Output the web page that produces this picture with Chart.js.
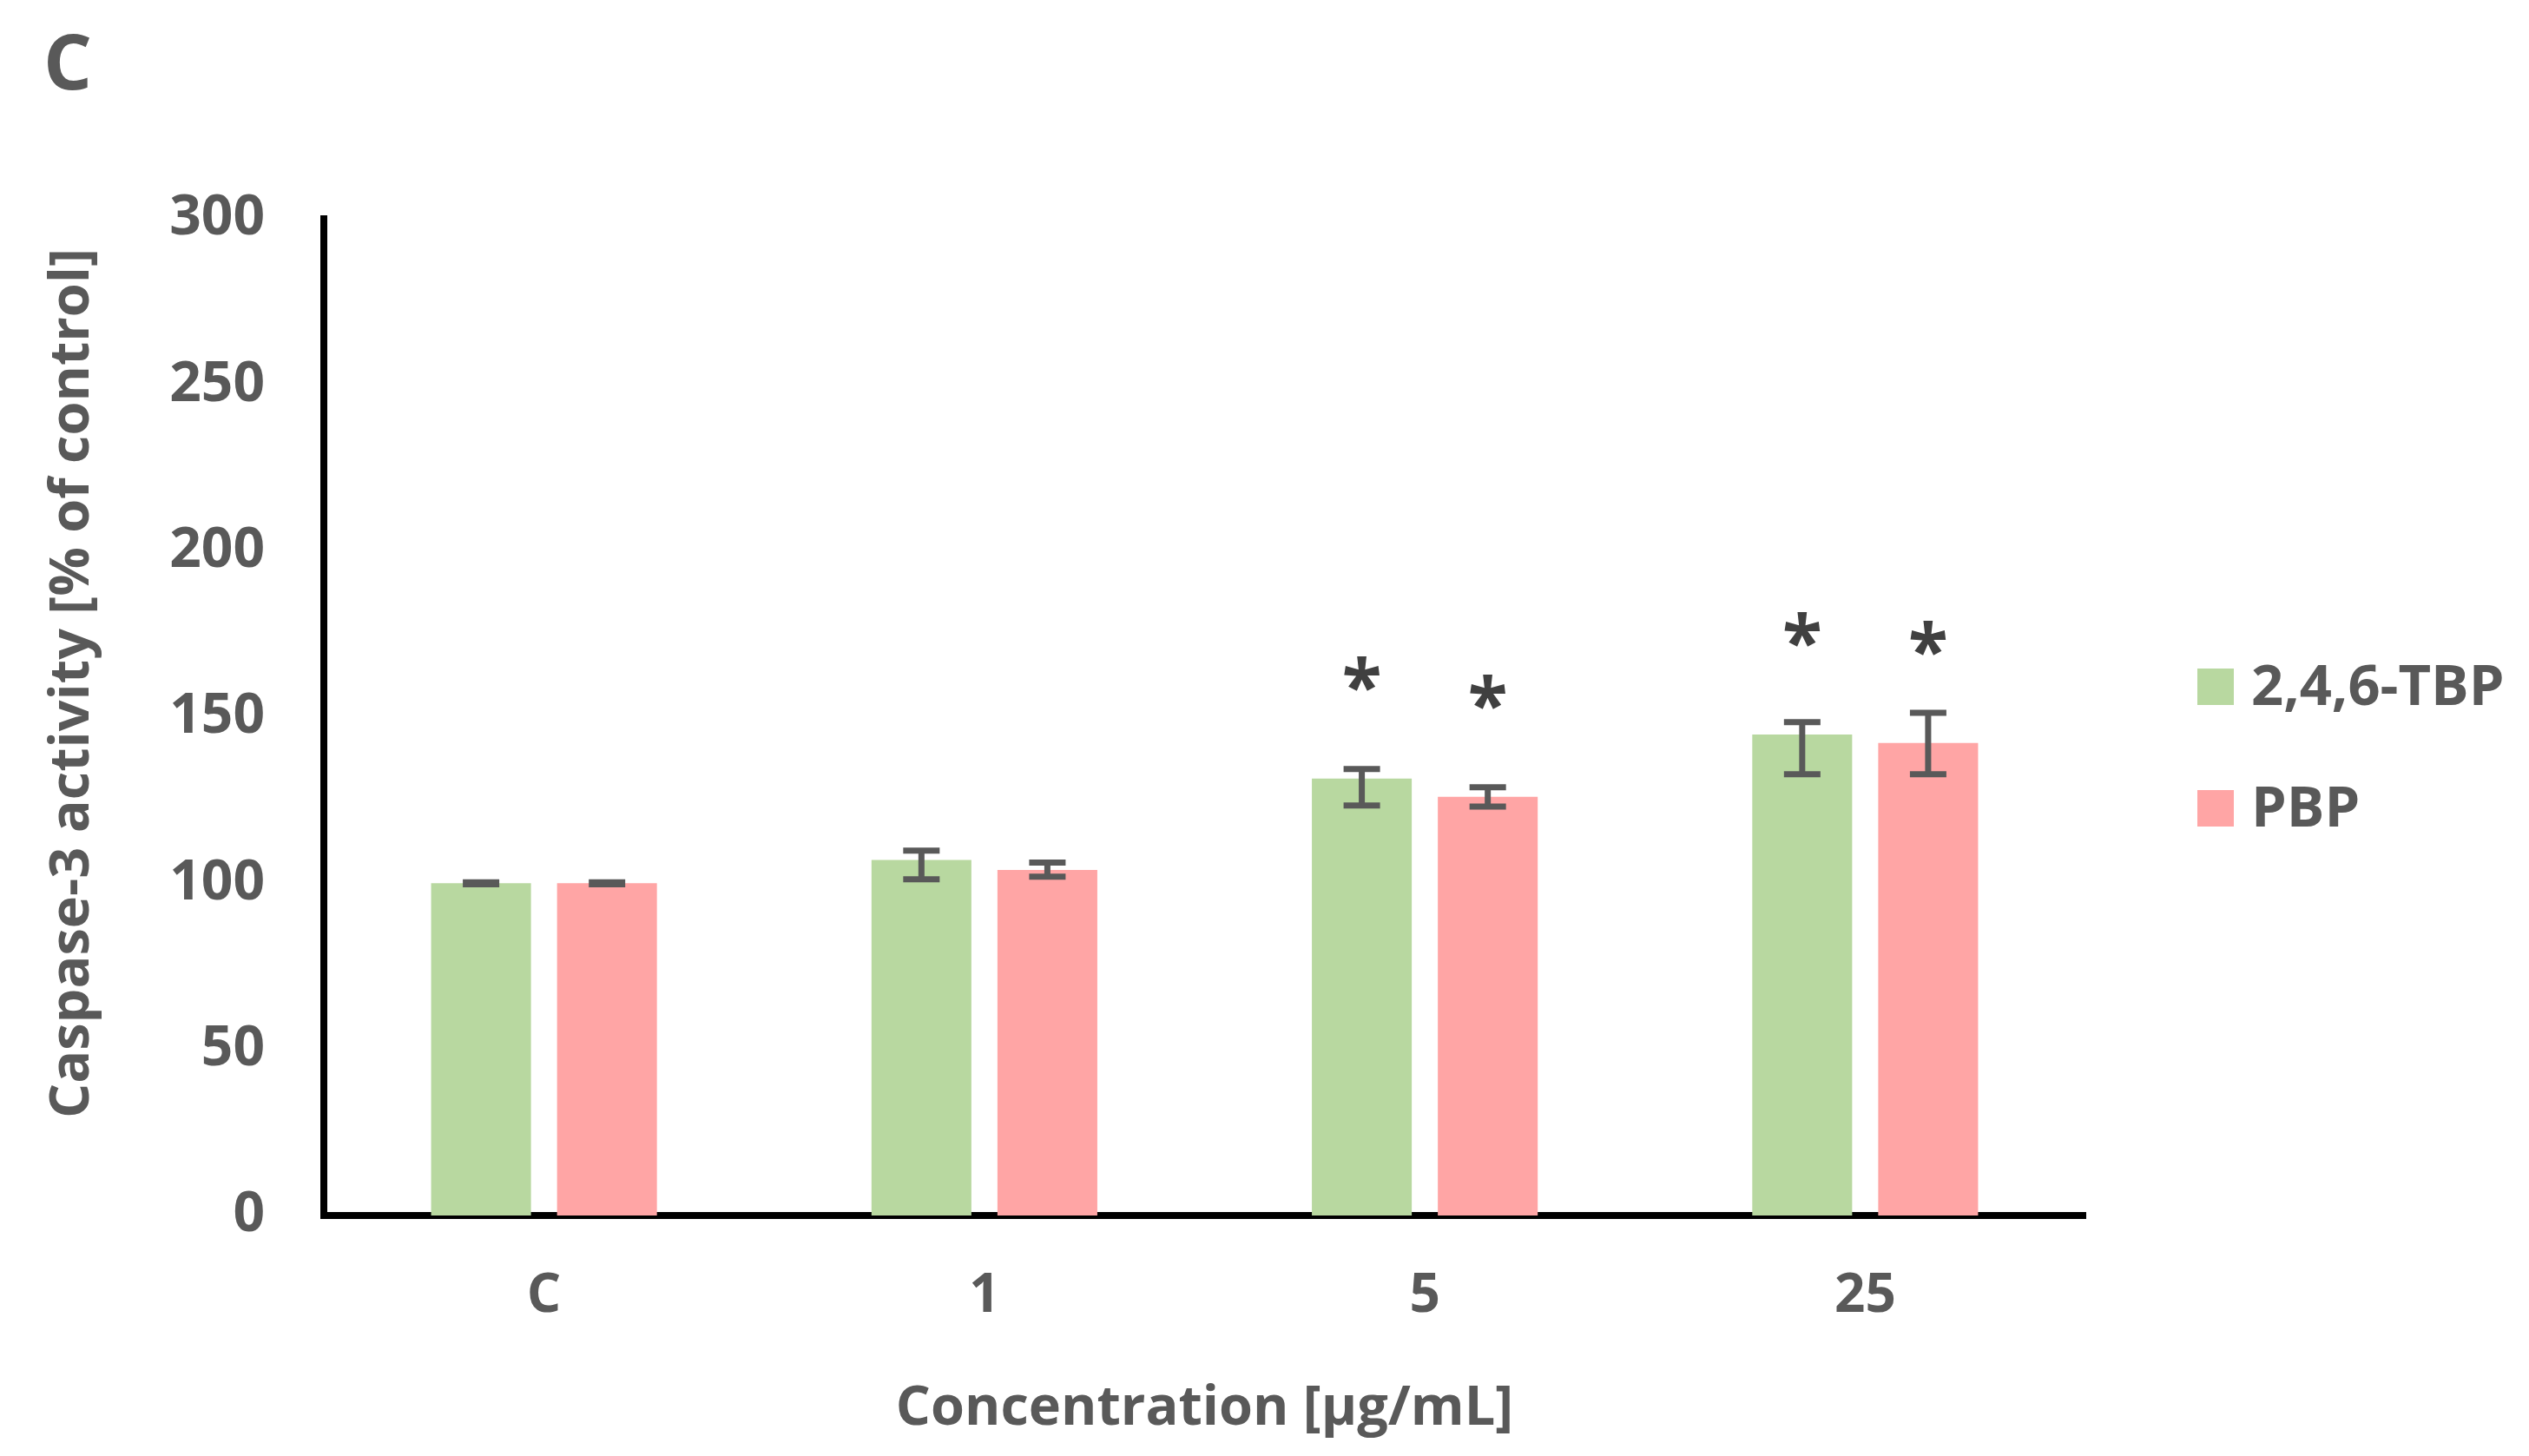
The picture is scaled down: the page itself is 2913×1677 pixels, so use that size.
<!DOCTYPE html>
<html>
<head>
<meta charset="utf-8">
<script src="https://cdn.jsdelivr.net/npm/chart.js@4.4.1/dist/chart.umd.min.js"></script>
<style>
  html, body { margin: 0; padding: 0; background: #ffffff; }
  canvas { display: block; }
</style>
</head>
<body>
<canvas id="c" width="2913" height="1677"></canvas>
<script>
// ---- data ----
const categories = ['C', '1', '5', '25'];
const seriesNames = ['2,4,6-TBP', 'PBP'];
const tbpMeans = [100, 107, 131.5, 144.8];
const tbpErrLow = [99.7, 101.2, 123.4, 132.8];
const tbpErrHigh = [100.3, 109.8, 134.4, 148.5];
const pbpMeans = [100, 104, 126, 142.2];
const pbpErrLow = [99.7, 102.0, 123.1, 132.8];
const pbpErrHigh = [100.3, 106.2, 128.9, 151.3];
const tbpSignif = [false, false, true, true];
const pbpSignif = [false, false, true, true];
const yTicks = [0, 50, 100, 150, 200, 250, 300];
const panelLabel = 'C';
const xTitle = 'Concentration [µg/mL]';
const yTitle = 'Caspase-3 activity [% of control]';

// ---- styles ----
const TEXT = '#595959';
const GREEN = '#B8D8A0';
const PINK = '#FFA5A5';
const FONT = '"Open Sans", "Noto Sans", sans-serif';

const errLow = [tbpErrLow, pbpErrLow];
const errHigh = [tbpErrHigh, pbpErrHigh];
const signif = [tbpSignif, pbpSignif];

const extras = {
  id: 'extras',
  afterDatasetsDraw(chart) {
    const ctx = chart.ctx;
    const y = chart.scales.y;
    ctx.save();
    chart.data.datasets.forEach((ds, di) => {
      const meta = chart.getDatasetMeta(di);
      meta.data.forEach((bar, i) => {
        const yt = y.getPixelForValue(errHigh[di][i]);
        const yb = y.getPixelForValue(errLow[di][i]);
        const x = bar.x;
        ctx.strokeStyle = TEXT;
        ctx.lineWidth = 7;
        ctx.lineCap = 'butt';
        ctx.beginPath();
        ctx.moveTo(x, yt); ctx.lineTo(x, yb);
        ctx.moveTo(x - 21, yt); ctx.lineTo(x + 21, yt);
        ctx.moveTo(x - 21, yb); ctx.lineTo(x + 21, yb);
        ctx.stroke();
        if (signif[di][i]) {
          ctx.fillStyle = '#404040';
          ctx.font = '700 84px ' + FONT;
          ctx.textAlign = 'center';
          ctx.textBaseline = 'middle';
          ctx.fillText('*', x, bar.y - 101);
        }
      });
    });
    ctx.restore();
  },
  afterDraw(chart) {
    const ctx = chart.ctx;
    ctx.save();
    // panel label
    ctx.fillStyle = TEXT;
    ctx.font = '700 88px ' + FONT;
    ctx.textAlign = 'left';
    ctx.textBaseline = 'alphabetic';
    ctx.fillText(panelLabel, 50, 103);
    // y title
    ctx.save();
    ctx.translate(84, 787);
    ctx.rotate(-Math.PI / 2);
    ctx.font = '700 63px ' + FONT;
    ctx.textAlign = 'center';
    ctx.textBaseline = 'middle';
    ctx.fillText(yTitle, 0, 0);
    ctx.restore();
    // legend
    const rows = [791, 931];
    chart.data.datasets.forEach((ds, di) => {
      const cy = rows[di];
      ctx.fillStyle = ds.backgroundColor;
      ctx.fillRect(2531, cy - 21, 42, 42);
      ctx.fillStyle = TEXT;
      ctx.font = '700 65px ' + FONT;
      ctx.textAlign = 'left';
      ctx.textBaseline = 'middle';
      ctx.fillText(ds.label, 2593, cy + 2);
    });
    ctx.restore();
  }
};

new Chart(document.getElementById('c'), {
  type: 'bar',
  data: {
    labels: categories,
    datasets: [
      { label: seriesNames[0], data: tbpMeans, backgroundColor: GREEN, borderWidth: 0,
        categoryPercentage: 0.572, barPercentage: 0.793 },
      { label: seriesNames[1], data: pbpMeans, backgroundColor: PINK, borderWidth: 0,
        categoryPercentage: 0.572, barPercentage: 0.793 }
    ]
  },
  options: {
    responsive: false,
    devicePixelRatio: 1,
    animation: false,
    layout: { padding: { left: 0, top: 252, right: 511, bottom: 0 } },
    plugins: { legend: { display: false }, tooltip: { enabled: false } },
    scales: {
      x: {
        grid: { display: false, drawTicks: false },
        border: { display: true, color: '#000000', width: 8 },
        ticks: { color: TEXT, font: { family: FONT, size: 62, weight: '700' }, padding: 56 },
        title: { display: true, text: xTitle, color: TEXT,
                 font: { family: FONT, size: 63, weight: '700' }, padding: { top: 0, bottom: 16 } },
        afterFit(s) { s.height = 277; }
      },
      y: {
        min: 0, max: 300,
        afterBuildTicks(s) { s.ticks = yTicks.map(v => ({ value: v })); },
        grid: { display: false, drawTicks: false },
        border: { display: true, color: '#000000', width: 8 },
        ticks: { color: TEXT, font: { family: FONT, size: 64, weight: '700' }, padding: 68 },
        afterFit(s) { s.width = 373; }
      }
    }
  },
  plugins: [extras]
});
</script>
</body>
</html>
